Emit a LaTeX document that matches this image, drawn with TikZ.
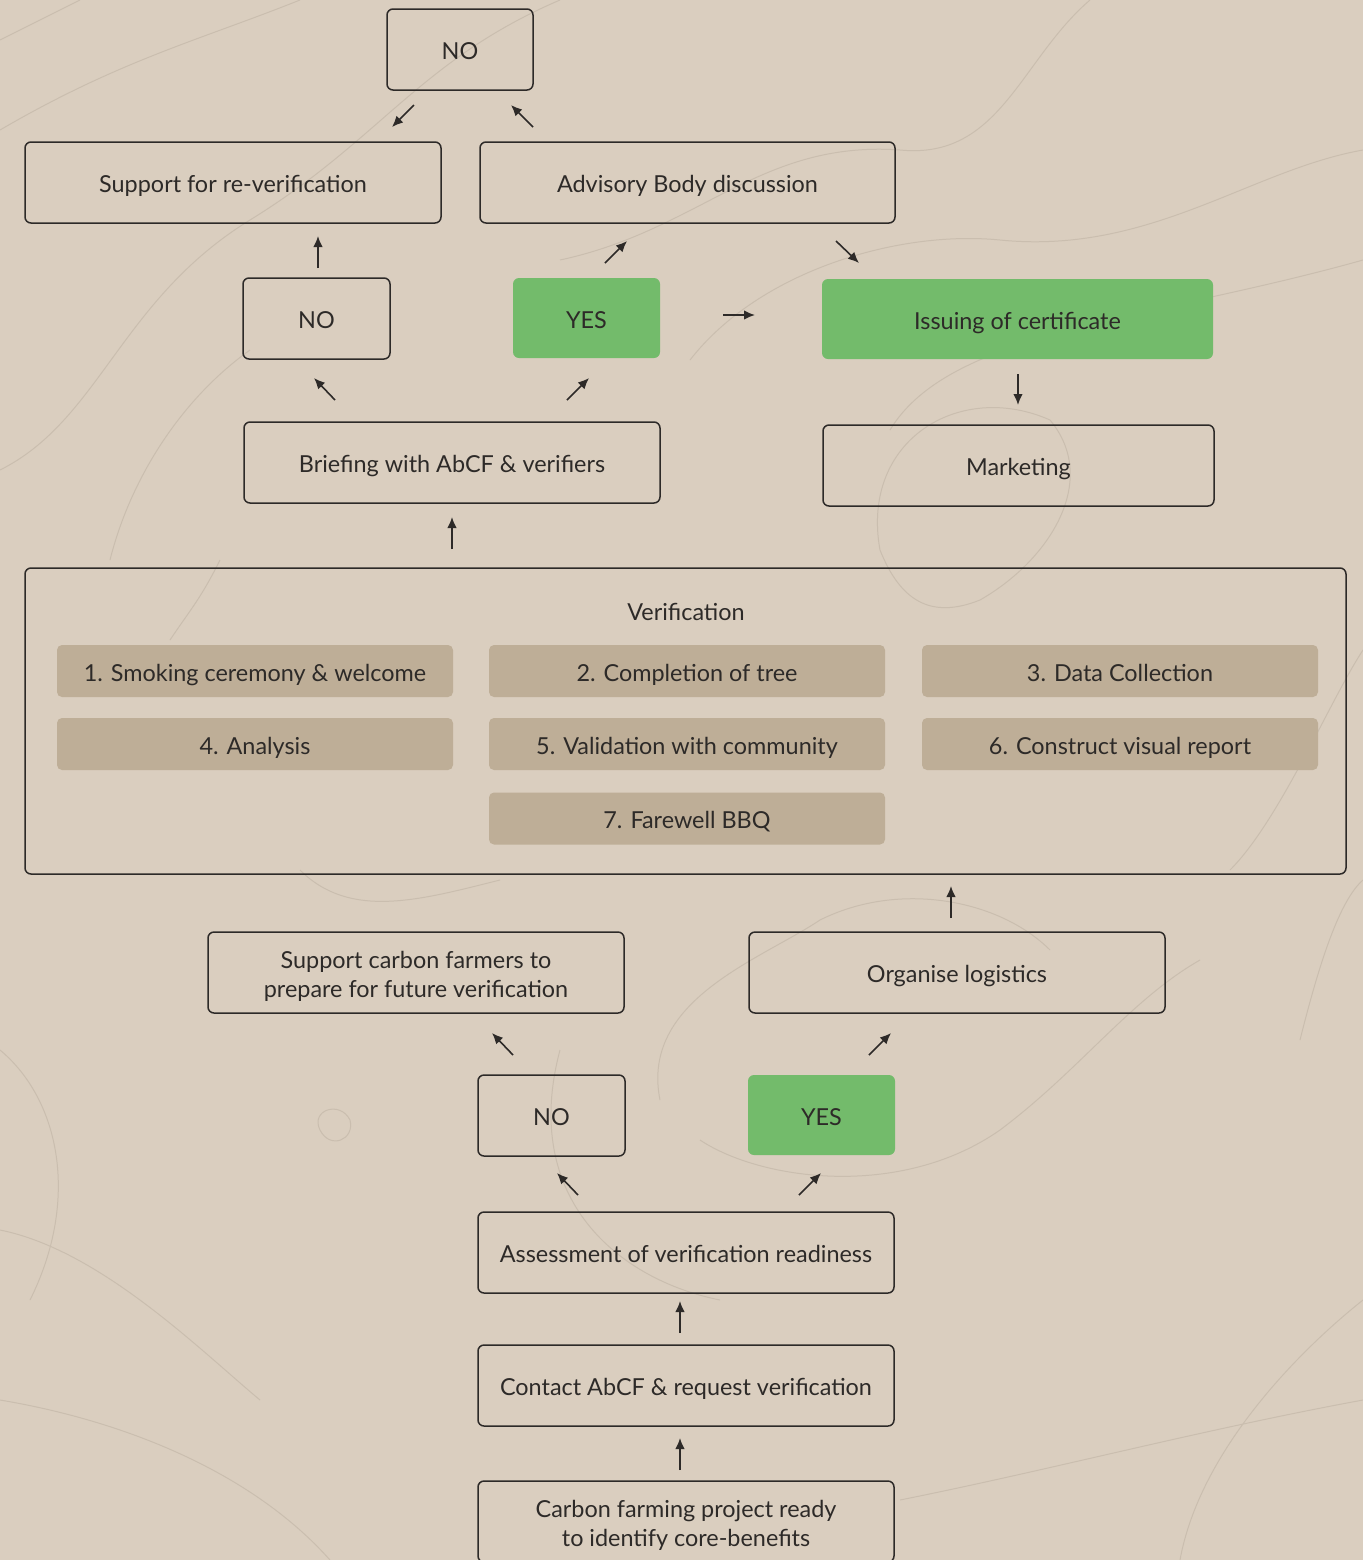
\documentclass[tikz,border=0pt]{standalone}
\usepackage{fontspec}
\setmainfont{Lato}
\usetikzlibrary{arrows.meta}
\definecolor{bg}{RGB}{218,206,191}
\definecolor{grn}{RGB}{115,187,107}
\definecolor{stp}{RGB}{190,174,151}
\definecolor{edge}{RGB}{45,42,40}
\definecolor{txt}{RGB}{45,42,40}
\definecolor{contour}{RGB}{202,190,175}
\newcommand\bstrut{\rule[-3pt]{0pt}{16pt}}
\newcommand\topstrut{\rule{0pt}{13pt}}
\newcommand\botstrut{\rule[-3pt]{0pt}{3pt}}
\begin{document}
\begin{tikzpicture}[x=0.5pt,y=-0.5pt,
  every node/.style={font=\fontsize{11.7pt}{14.5pt}\selectfont, text=txt, inner sep=0pt, align=center,
     execute at begin node=\bstrut, execute at end node=\bstrut},
  twoline/.style={execute at begin node={}, execute at end node={}},
  bw/.style={minimum width=#1*0.5pt},
  bh/.style={minimum height=#1*0.5pt},
  box/.style={draw=edge, line width=0.75pt, rounded corners=3pt, bh=81},
  greenbox/.style={fill=grn, rounded corners=3pt, bh=80},
  stepbox/.style={fill=stp, rounded corners=2.5pt, bw=396, bh=52},
  frame/.style={draw=edge, line width=0.75pt, rounded corners=3pt},
  arr/.style={draw=edge, line width=0.8pt, -{Latex[length=5.5pt,width=4.8pt]}},
  cl/.style={draw=contour, line width=0.5pt}
]
\useasboundingbox[fill=bg] (0,0) rectangle (1363,1560);

% faint contour lines
\draw[cl] (0,130) .. controls (120,60) and (200,40) .. (300,0);
\draw[cl] (0,40) .. controls (40,20) and (60,10) .. (80,0);
\draw[cl] (0,470) .. controls (100,420) and (120,300) .. (250,220) .. controls (380,140) and (420,60) .. (560,0);
\draw[cl] (560,260) .. controls (700,230) and (760,140) .. (900,150) .. controls (1000,160) and (1020,60) .. (1090,0);
\draw[cl] (690,360) .. controls (760,270) and (900,230) .. (1000,240) .. controls (1150,255) and (1250,170) .. (1363,150);
\draw[cl] (890,430) .. controls (950,330) and (1150,320) .. (1363,260);
\draw[cl] (880,550) .. controls (860,440) and (960,380) .. (1050,420) .. controls (1100,480) and (1050,560) .. (980,600) .. controls (930,620) and (900,600) .. (880,550);
\draw[cl] (110,560) .. controls (130,480) and (180,400) .. (250,350);
\draw[cl] (170,640) .. controls (190,610) and (200,600) .. (220,560);
\draw[cl] (300,870) .. controls (350,920) and (420,900) .. (500,880);
\draw[cl] (660,1100) .. controls (640,1000) and (760,960) .. (820,920) .. controls (900,880) and (1000,900) .. (1050,950);
\draw[cl] (700,1140) .. controls (760,1180) and (900,1200) .. (1000,1130) .. controls (1080,1070) and (1130,1000) .. (1200,960);
\draw[cl] (560,1050) .. controls (520,1200) and (620,1280) .. (720,1300);
\draw[cl] (0,1050) .. controls (60,1100) and (80,1200) .. (30,1300);
\draw[cl] (1180,1560) .. controls (1200,1450) and (1300,1350) .. (1363,1300);
\draw[cl] (900,1500) .. controls (1050,1470) and (1200,1430) .. (1363,1400);
\draw[cl] (0,1400) .. controls (120,1420) and (250,1470) .. (330,1560);
\draw[cl] (320,1130) .. controls (310,1110) and (340,1100) .. (350,1120) .. controls (355,1140) and (330,1150) .. (320,1130);
\draw[cl] (1230,870) .. controls (1280,820) and (1330,700) .. (1363,650);
\draw[cl] (1300,1040) .. controls (1320,960) and (1340,900) .. (1363,880);
\draw[cl] (0,1230) .. controls (100,1250) and (200,1350) .. (260,1400);

% top area
\node[box, bw=146] (notop) at (460,49.5) {NO};
\node[box, bw=416] (support) at (233,182.5) {Support for re-verification};
\node[box, bw=415] (advisory) at (687.5,182.5) {Advisory Body discussion};
\node[box, bw=147] (nomid) at (316.5,318.5) {NO};
\node[greenbox, bw=147] (yesmid) at (586.5,318) {YES};
\node[greenbox, bw=391] (issuing) at (1017.5,319) {Issuing of certificate};
\node[box, bw=416] (briefing) at (452,462.5) {Briefing with AbCF \& verifiers};
\node[box, bw=391] (marketing) at (1018.5,465.5) {Marketing};

% verification frame
\node[frame, minimum width=1321*0.5pt, minimum height=306*0.5pt] (verif) at (685.5,721) {};
\node (veriftitle) at (686,610) {Verification};
\node[stepbox] (s1) at (255,671) {1. Smoking ceremony \& welcome};
\node[stepbox] (s2) at (687,671) {2. Completion of tree};
\node[stepbox] (s3) at (1120,671) {3. Data Collection};
\node[stepbox] (s4) at (255,744) {4. Analysis};
\node[stepbox] (s5) at (687,744) {5. Validation with community};
\node[stepbox] (s6) at (1120,744) {6. Construct visual report};
\node[stepbox] (s7) at (687,818.5) {7. Farewell BBQ};

% bottom area
\node[box, twoline, bw=416] (supportcf) at (416,972.5) {\topstrut Support carbon farmers to\\prepare for future verification\botstrut};
\node[box, bw=416] (logistics) at (957,972.5) {Organise logistics};
\node[box, bw=147] (nobot) at (551.5,1115.5) {NO};
\node[greenbox, bw=147] (yesbot) at (821.5,1115) {YES};
\node[box, bw=416] (assess) at (686,1252.5) {Assessment of verification readiness};
\node[box, bw=416] (contact) at (686,1385.5) {Contact AbCF \& request verification};
\node[box, twoline, bw=416] (carbon) at (686,1521.5) {\topstrut Carbon farming project ready\\to identify core-benefits\botstrut};

% arrow end points (arrows float between boxes)
\coordinate (a1s) at (414,105);  \coordinate (a1e) at (392,127);
\coordinate (a2s) at (533,127);  \coordinate (a2e) at (511,105);
\coordinate (a3s) at (318,268);  \coordinate (a3e) at (318,236);
\coordinate (a4s) at (605,263);  \coordinate (a4e) at (627,241);
\coordinate (a5s) at (836,241);  \coordinate (a5e) at (859,263);
\coordinate (a6s) at (723,315);  \coordinate (a6e) at (755,315);
\coordinate (a7s) at (1018,374); \coordinate (a7e) at (1018,405);
\coordinate (a8s) at (335,400);  \coordinate (a8e) at (314,378);
\coordinate (a9s) at (567,400);  \coordinate (a9e) at (589,378);
\coordinate (a10s) at (452,549); \coordinate (a10e) at (452,517);
\coordinate (a11s) at (951,918); \coordinate (a11e) at (951,886);
\coordinate (a12s) at (513,1055); \coordinate (a12e) at (492,1033);
\coordinate (a13s) at (869,1055); \coordinate (a13e) at (891,1033);
\coordinate (a14s) at (578,1195); \coordinate (a14e) at (557,1173);
\coordinate (a15s) at (799,1195); \coordinate (a15e) at (821,1173);
\coordinate (a16s) at (680,1333); \coordinate (a16e) at (680,1301);
\coordinate (a17s) at (680,1470); \coordinate (a17e) at (680,1438);

\foreach \i in {1,...,17} {\draw[arr] (a\i s) -- (a\i e);}
\end{tikzpicture}
\end{document}
